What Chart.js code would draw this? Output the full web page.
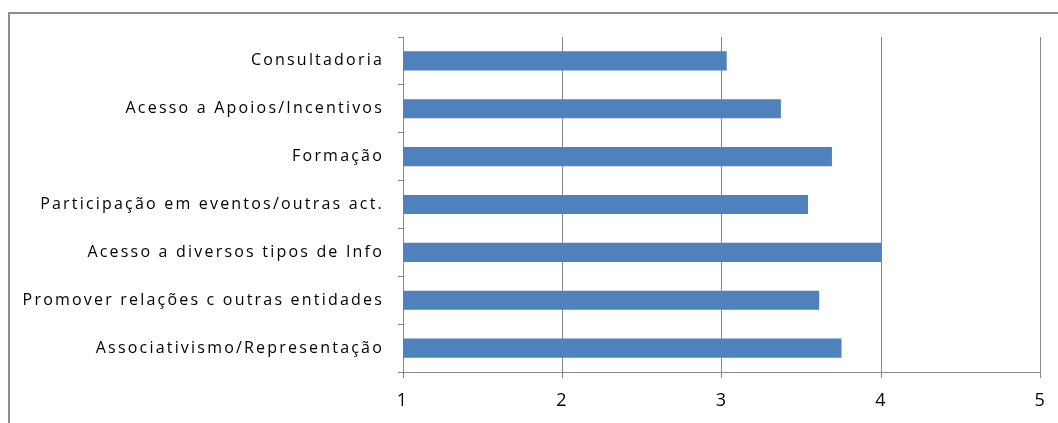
<!DOCTYPE html>
<html>
<head>
<meta charset="utf-8">
<script src="https://cdn.jsdelivr.net/npm/chart.js@4"></script>
<style>
  html, body { margin: 0; padding: 0; background: #fff; overflow: hidden; }
  #frame {
    position: absolute; left: 8px; top: 12px;
    width: 1100px; height: 450px;
    border-left: 2px solid #8e8e8e; border-top: 2px solid #8e8e8e;
  }
  #wrap { position: absolute; left: 0; top: 0; width: 1058px; height: 423px; }
</style>
</head>
<body>
<div id="frame"></div>
<div id="wrap"><canvas id="chart"></canvas></div>
<script>
// categories top to bottom, as in the picture
const categories = [
    'Consultadoria',
    'Acesso a Apoios/Incentivos',
    'Formação',
    'Participação em eventos/outras act.',
    'Acesso a diversos tipos de Info',
    'Promover relações c outras entidades',
    'Associativismo/Representação'
];
const scores = [3.03, 3.37, 3.69, 3.54, 4.0, 3.61, 3.75];
const tickValues = [1, 2, 3, 4, 5];

const gridGray = '#878787';

// the original labels are spread out a bit (old Calibri rendering)
const spacedText = {
    id: 'spacedText',
    beforeDraw(chart) { chart.ctx.letterSpacing = '2.2px'; }
};

const ctx = document.getElementById('chart').getContext('2d');
new Chart(ctx, {
    type: 'bar',
    data: {
        labels: categories,
        datasets: [{
            data: scores,
            backgroundColor: '#4F81BD',
            barPercentage: 0.4,
            categoryPercentage: 1.0
        }]
    },
    plugins: [spacedText],
    options: {
        indexAxis: 'y',
        responsive: true,
        maintainAspectRatio: false,
        animation: false,
        layout: { padding: { left: 0, top: 37, right: 17, bottom: 0 } },
        plugins: { legend: { display: false }, tooltip: { enabled: false } },
        scales: {
            x: {
                min: tickValues[0],
                max: tickValues[tickValues.length - 1],
                afterBuildTicks: s => { s.ticks = tickValues.map(v => ({ value: v })); },
                grid: { color: gridGray, lineWidth: 1, tickLength: 6 },
                border: { color: gridGray, width: 1 },
                ticks: { color: '#000', padding: 12, font: { family: 'Open Sans', size: 18 } },
                afterFit: s => { s.height = 51; }
            },
            y: {
                grid: { drawOnChartArea: false, color: gridGray, tickLength: 5, offset: true },
                border: { color: gridGray, width: 1 },
                ticks: { color: '#000', padding: 14, font: { family: 'Open Sans', size: 16 } },
                afterFit: s => { s.width = 403; }
            }
        }
    }
});
</script>
</body>
</html>
